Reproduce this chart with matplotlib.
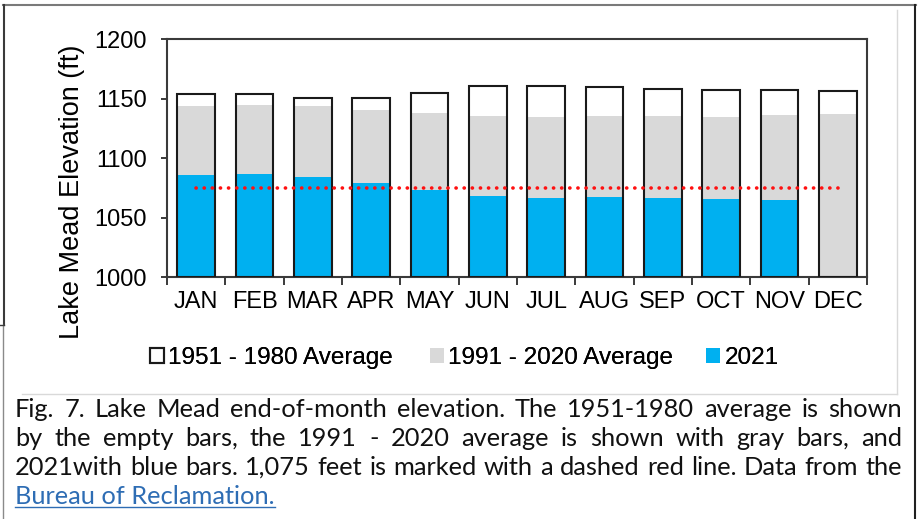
import matplotlib
matplotlib.use("Agg")
import matplotlib.pyplot as plt
import numpy as np
from matplotlib.lines import Line2D

# ---------------- data ----------------
months = ["JAN", "FEB", "MAR", "APR", "MAY", "JUN", "JUL", "AUG", "SEP", "OCT", "NOV", "DEC"]
avg_1951_1980 = [1154, 1154, 1151, 1151, 1155, 1160.5, 1161, 1160, 1158, 1157, 1157, 1156.5]
avg_1991_2020 = [1144, 1145, 1144, 1141, 1138, 1135.5, 1135, 1135.5, 1135.5, 1135, 1136, 1137.5]
elev_2021 = [1086, 1087, 1084, 1079, 1073, 1068.5, 1067, 1067.5, 1067, 1066, 1065, np.nan]
threshold = 1075
series_labels = ["1951 - 1980 Average", "1991 - 2020 Average", "2021"]
y_ticks = [1000, 1050, 1100, 1150, 1200]
y_label = "Lake Mead Elevation (ft)"
caption_lines = [
    "Fig. 7. Lake Mead end-of-month elevation. The 1951-1980 average is shown",
    "by the empty bars, the 1991 - 2020 average is shown with gray bars, and",
    "2021with blue bars. 1,075 feet is marked with a dashed red line. Data from the",
]
caption_link = "Bureau of Reclamation."

# ---------------- figure ----------------
W, H = 919, 519
fig = plt.figure(figsize=(W / 100, H / 100), dpi=100)
fig.patch.set_facecolor("white")

def fx(px):
    return px / W

def fy(py):
    return 1 - py / H

chart_font = ["Liberation Sans", "DejaVu Sans"]
spine_col = "#3a3a3a"

ax = fig.add_axes([fx(167), fy(277.3), fx(867) - fx(167), fy(39.3) - fy(277.3)])
x = np.arange(len(months))
bw = 0.65
b_gray = ax.bar(x, np.array(avg_1991_2020) - 1000, bottom=1000, width=bw,
                color="#D9D9D9", edgecolor="none", zorder=2, label=series_labels[1])
b_blue = ax.bar(x, np.array(elev_2021) - 1000, bottom=1000, width=bw,
                color="#00B0F0", edgecolor="none", zorder=3, label=series_labels[2])
b_empty = ax.bar(x, np.array(avg_1951_1980) - 1000, bottom=1000, width=bw,
                 facecolor="none", edgecolor="#1a1a1a", linewidth=1.5, zorder=4,
                 label=series_labels[0])
ax.plot([x[0], x[-1]], [threshold, threshold], color="#FF1010", lw=2.6,
        linestyle=(0, (0.05, 2.2)), dash_capstyle="round", zorder=5)

ax.set_xlim(-0.5, len(months) - 0.5)
ax.set_ylim(1000, 1200)
ax.set_yticks(y_ticks)
ax.set_yticklabels([str(v) for v in y_ticks], fontfamily=chart_font, fontsize=17)
ax.set_xticks(np.arange(-0.5, len(months), 1.0))
ax.set_xticklabels([])
ax.set_xticks(x, minor=True)
ax.set_xticklabels(months, minor=True, fontfamily=chart_font, fontsize=17)
ax.tick_params(axis="x", which="major", direction="out", length=5.5, width=1.4, color=spine_col)
ax.tick_params(axis="x", which="minor", length=0, pad=10)
ax.tick_params(axis="y", direction="out", length=4.3, width=1.4, color=spine_col, pad=10)
for s in ax.spines.values():
    s.set_color(spine_col)
    s.set_linewidth(1.5)

fig.text(fx(72), fy(191.5), y_label, rotation=90, ha="center", va="center",
         fontsize=19.5, fontfamily=chart_font)

# legend: three entries placed individually (uneven spacing as in the original)
leg_x = [150, 430, 706]
for h, lab, lx in zip([b_empty, b_gray, b_blue], series_labels, leg_x):
    lg = fig.legend(handles=[h], labels=[lab], loc="center left",
                    bbox_to_anchor=(fx(lx), fy(358)), frameon=False,
                    prop={"family": chart_font, "size": 17.5}, handlelength=0.58,
                    handleheight=0.58, handletextpad=0.18, borderpad=0,
                    borderaxespad=0)
    fig.add_artist(lg)

# ---------------- page borders ----------------
def hline(y, x0, x1, color, lw):
    fig.add_artist(Line2D([fx(x0), fx(x1)], [fy(y), fy(y)], color=color, lw=lw,
                          transform=fig.transFigure))

def vline(xp, y0, y1, color, lw):
    fig.add_artist(Line2D([fx(xp), fx(xp)], [fy(y0), fy(y1)], color=color, lw=lw,
                          transform=fig.transFigure))

hline(5, 3, 916, "#7a7a7a", 1.5)
vline(3.5, 5, 325, "#3a3a3a", 1.5)
vline(3, 325, 519, "#8a8a8a", 1.0)
hline(325, 0, 4, "#3a3a3a", 1.0)
vline(915, 5, 519, "#202020", 1.5)
vline(897, 10, 394, "#d9d9d9", 1.0)
hline(394, 22, 897, "#d9d9d9", 1.0)

# ---------------- caption (justified) ----------------
cap_font = ["Lato", "DejaVu Sans"]
fig.canvas.draw()
renderer = fig.canvas.get_renderer()
x0, x1 = 15, 902
probe = fig.text(0, 0, caption_lines[2], fontsize=16, fontfamily=cap_font)
wprobe = probe.get_window_extent(renderer).width
probe.remove()
cap_fs = 16 * (x1 - x0 - 6) / wprobe

baselines = [417, 446, 475, 504]
for line, yb in zip(caption_lines, baselines):
    words = line.split(" ")
    arts = [fig.text(0, fy(yb), w, ha="left", va="baseline", fontsize=cap_fs,
                     fontfamily=cap_font, color="#111111") for w in words]
    widths = [a.get_window_extent(renderer).width for a in arts]
    gap = (x1 - x0 - sum(widths)) / (len(words) - 1)
    xc = x0
    for a, w in zip(arts, widths):
        a.set_x(fx(xc))
        xc += w + gap

link = fig.text(fx(x0), fy(baselines[3]), caption_link, ha="left", va="baseline",
                fontsize=cap_fs, fontfamily=cap_font, color="#2E6DB4")
lw_ = link.get_window_extent(renderer).width
hline(baselines[3] + 3, x0, x0 + lw_, "#2E6DB4", 1.0)

fig.savefig("out.png", dpi=100)
